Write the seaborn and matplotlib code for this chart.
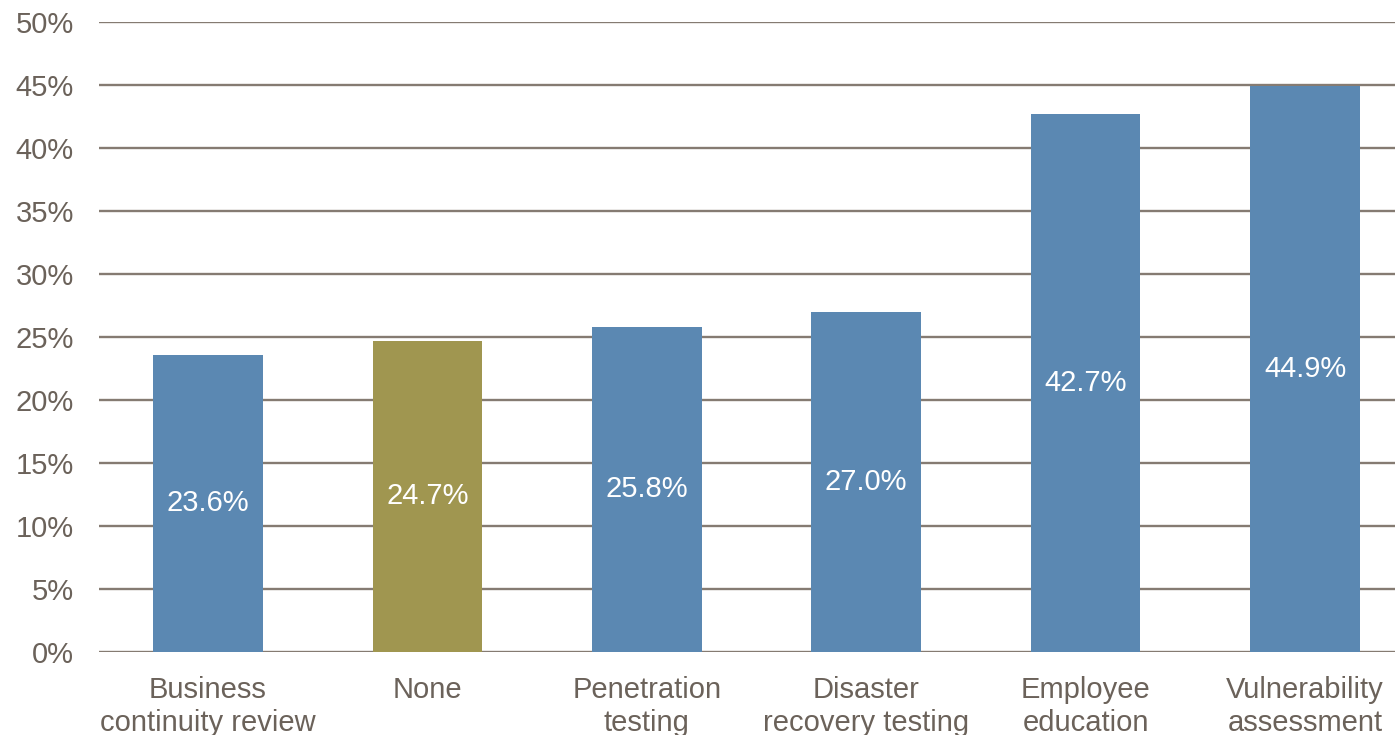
import matplotlib
matplotlib.use("Agg")
import matplotlib.pyplot as plt
import seaborn as sns
import pandas as pd

# data
categories = ["Business\ncontinuity review", "None", "Penetration\ntesting",
              "Disaster\nrecovery testing", "Employee\neducation", "Vulnerability\nassessment"]
values = [23.6, 24.7, 25.8, 27.0, 42.7, 44.9]
bar_colors = ["#5b88b2", "#a09650", "#5b88b2", "#5b88b2", "#5b88b2", "#5b88b2"]
y_ticks = [0, 5, 10, 15, 20, 25, 30, 35, 40, 45, 50]

text_color = "#6b625a"
grid_color = "#857b72"

sns.set_style("white")
plt.rcParams['font.family'] = ['Liberation Sans', 'DejaVu Sans']

df = pd.DataFrame({"category": categories, "value": values})

fig = plt.figure(figsize=(13.95, 7.35), dpi=100)
ax = fig.add_axes([99 / 1395, 83 / 735, 1 - 99 / 1395, 630 / 735])

sns.barplot(data=df, x="category", y="value", hue="category", palette=bar_colors,
            legend=False, width=0.5, saturation=1, linewidth=0, ax=ax, zorder=3)

ax.set_ylim(0, 50)
ax.set_yticks(y_ticks)
ax.set_yticklabels([f"{t}%" for t in y_ticks])
# the original is clipped on the right side
ax.set_xlim(-0.497, 5.41)
for t in y_ticks:
    ax.axhline(t, color=grid_color, lw=1.7, zorder=1)

for i, v in enumerate(values):
    ax.text(i, v / 2, f"{v:.1f}%", ha="center", va="center", color="white",
            fontsize=21, zorder=4)

ax.set_xlabel("")
ax.set_ylabel("")
ax.tick_params(axis="y", length=0, pad=18, labelsize=21, labelcolor=text_color)
ax.tick_params(axis="x", length=0, pad=17, labelsize=21, labelcolor=text_color)
for lbl in ax.get_xticklabels():
    lbl.set_linespacing(1.25)
for s in ax.spines.values():
    s.set_visible(False)

fig.savefig("out.png", dpi=100)
